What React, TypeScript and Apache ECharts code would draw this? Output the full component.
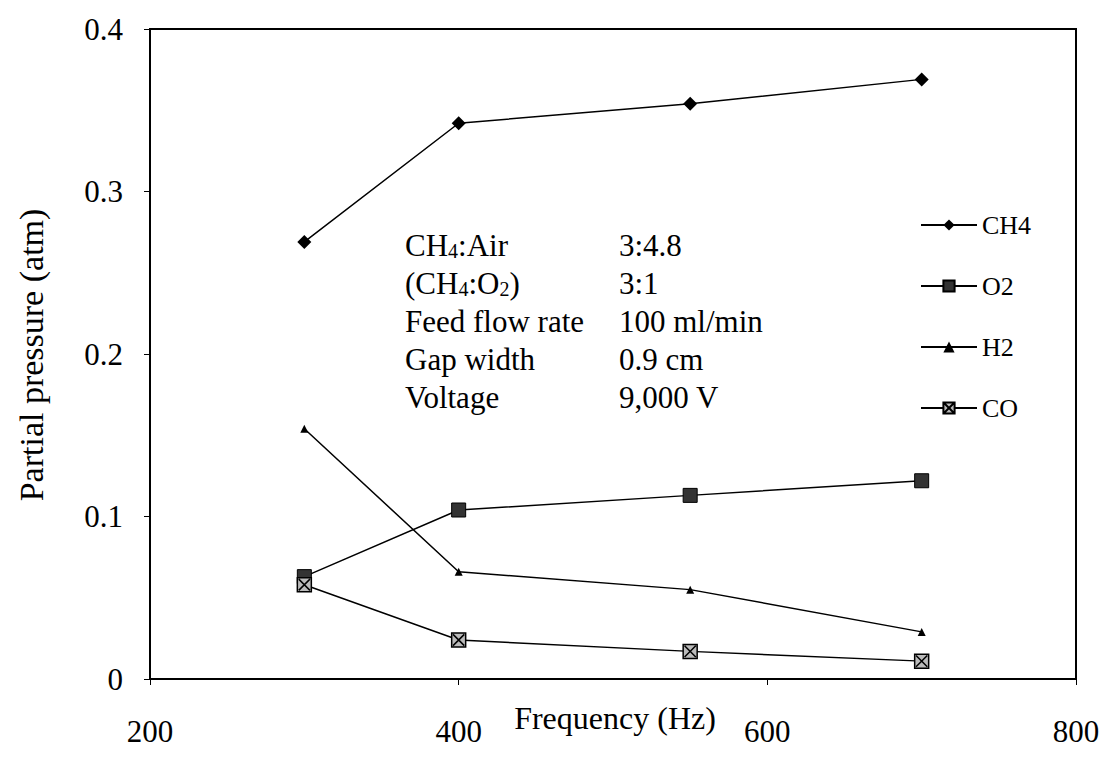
import React, { useEffect, useRef } from "react";
import * as echarts from "echarts";

const frequencies = [300, 400, 550, 700];
const ch4 = [0.269, 0.342, 0.354, 0.369];
const o2 = [0.063, 0.104, 0.113, 0.122];
const h2 = [0.154, 0.066, 0.055, 0.029];
const co = [0.058, 0.024, 0.017, 0.011];
const seriesNames = ["CH4", "O2", "H2", "CO"];
const infoLabels = ["{t|CH}{s|4}{t|:Air}", "{t|(CH}{s|4}{t|:O}{s|2}{t|)}", "{t|Feed flow rate}", "{t|Gap width}", "{t|Voltage}"];
const infoValues = ["3:4.8", "3:1", "100 ml/min", "0.9 cm", "9,000 V"];

const SERIF = "Liberation Serif";
const CO_SYMBOL = "path://M0,0 L10,0 L10,10 L0,10 Z M1,1 L9,9 M9,1 L1,9";

export default function App() {
  const ref = useRef<HTMLDivElement>(null);
  useEffect(() => {
    document.body.style.margin = "0";
    const chart = echarts.init(ref.current!, null, { renderer: "svg" });
    const mk = (vals: number[]) => frequencies.map((f, i) => [f, vals[i]]);
    const lineStyle = { color: "#000", width: 1.5 };
    chart.setOption({
      animation: false,
      backgroundColor: "#fff",
      textStyle: { fontFamily: SERIF },
      grid: { left: 150, right: 31, top: 29, bottom: 83, show: true, borderColor: "#000", borderWidth: 2 },
      xAxis: {
        type: "value", min: 200, max: 800, interval: 200,
        axisLine: { show: true, lineStyle: { color: "#000", width: 2 } },
        axisTick: { show: true, length: 6, lineStyle: { color: "#000" } },
        splitLine: { show: false },
        axisLabel: { color: "#000", fontFamily: SERIF, fontSize: 31, margin: 37 },
      },
      yAxis: {
        type: "value", min: 0, max: 0.4, interval: 0.1,
        axisLine: { show: true, lineStyle: { color: "#000", width: 2 } },
        axisTick: { show: true, length: 6, lineStyle: { color: "#000" } },
        splitLine: { show: false },
        axisLabel: { color: "#000", fontFamily: SERIF, fontSize: 31, margin: 27, formatter: (v: number) => (v === 0 ? "0" : String(Math.round(v * 10) / 10)) },
      },
      legend: {
        orient: "vertical", left: 915, top: 207, itemWidth: 56, itemHeight: 14, itemGap: 35,
        textStyle: { color: "#000", fontFamily: SERIF, fontSize: 26 },
        data: seriesNames,
      },
      graphic: [
        { type: "text", x: 31, y: 355, rotation: Math.PI / 2, style: { text: "Partial pressure (atm)", fontFamily: SERIF, fontSize: 34, fill: "#000", align: "center", verticalAlign: "middle" } },
        { type: "text", x: 615, y: 718, style: { text: "Frequency (Hz)", fontFamily: SERIF, fontSize: 32, fill: "#000", align: "center", verticalAlign: "middle" } },
        ...infoLabels.map((t, i) => ({
          type: "text", x: 405, y: 245 + i * 38,
          style: { text: t, fill: "#000", verticalAlign: "middle", fontFamily: SERIF, fontSize: 31, rich: { t: { fontFamily: SERIF, fontSize: 31, fill: "#000" }, s: { fontFamily: SERIF, fontSize: 20, fill: "#000", padding: [12, 0, 0, 0] } } },
        })),
        ...infoValues.map((t, i) => ({
          type: "text", x: 619, y: 245 + i * 38,
          style: { text: t, fontFamily: SERIF, fontSize: 31, fill: "#000", verticalAlign: "middle" },
        })),
      ],
      series: [
        { name: "CH4", type: "line", data: mk(ch4), symbol: "diamond", symbolSize: 14, lineStyle, itemStyle: { color: "#000" } },
        { name: "O2", type: "line", data: mk(o2), symbol: "rect", symbolSize: 14, lineStyle, itemStyle: { color: "#333", borderColor: "#000", borderWidth: 1 } },
        { name: "H2", type: "line", data: mk(h2), symbol: "triangle", symbolSize: 8, lineStyle, itemStyle: { color: "#000" } },
        { name: "CO", type: "line", data: mk(co), symbol: CO_SYMBOL, symbolSize: 14, lineStyle, itemStyle: { color: "#bbb", borderColor: "#000", borderWidth: 1.5 } },
      ],
    });
    return () => chart.dispose();
  }, []);
  return <div ref={ref} style={{ width: 1107, height: 762 }} />;
}
